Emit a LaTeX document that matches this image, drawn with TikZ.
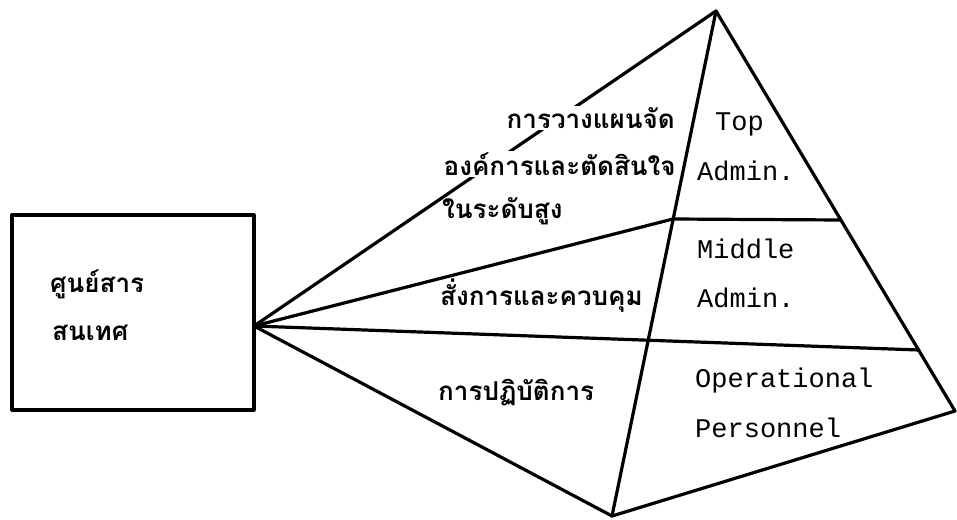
\documentclass[tikz,border=0pt]{standalone}
\usepackage{fontspec}
\newfontfamily\thaifont[Script=Thai]{Loma}
\setmonofont{Liberation Mono}
\begin{document}
\begin{tikzpicture}[x=1pt,y=-1pt,
  ln/.style={line width=3.2pt, line cap=round, line join=round},
  thai/.style={font=\thaifont\bfseries\fontsize{26}{30}\selectfont, inner sep=0pt, anchor=base west},
  thaicut/.style={thai, fill=white, inner sep=1.5pt},
  eng/.style={font=\ttfamily\fontsize{27}{30}\selectfont, inner sep=0pt, anchor=base west}]
\useasboundingbox[fill=white] (0,0) rectangle (957,519);
% left box
\node[draw, ln, minimum width=242pt, minimum height=195pt, inner sep=0pt] (box) at (133,312.5) {};
\node[thai] (t1) at (50,292) {ศูนย์สาร};
\node[thai] (t2) at (52,340) {สนเทศ};
% pyramid points
\coordinate (p) at (254,326);
\coordinate (a) at (716,11);
\coordinate (r) at (955,411);
\coordinate (b) at (612,516);
\coordinate (h1l) at (673,219);
\coordinate (h1r) at (841,220);
\coordinate (h2r) at (919,350);
% outer top line, broken by text
\draw[ln] (p) -- (a);
\node[thaicut] (l1) at (505,128) {การวางแผนจัด};
\node[thaicut] (l2) at (442,175) {องค์การและตัดสินใจ};
\node[thai] (l3) at (442,218) {ในระดับสูง};
\node[thai] (l4) at (440,305) {สั่งการและควบคุม};
\node[thai] (l5) at (438,400) {การปฏิบัติการ};
% other lines
\draw[ln] (p) -- (h1l) -- (h1r);
\draw[ln] (p) -- (h2r);
\draw[ln] (p) -- (b);
\draw[ln] (a) -- (b);
\draw[ln] (a) -- (r) -- (b);
% English labels
\node[eng] (e1) at (715,130) {Top};
\node[eng] (e2) at (697,180) {Admin.};
\node[eng] (e3) at (697,258) {Middle};
\node[eng] (e4) at (697,307) {Admin.};
\node[eng] (e5) at (695,387) {Operational};
\node[eng] (e6) at (695,437) {Personnel};
\end{tikzpicture}
\end{document}
